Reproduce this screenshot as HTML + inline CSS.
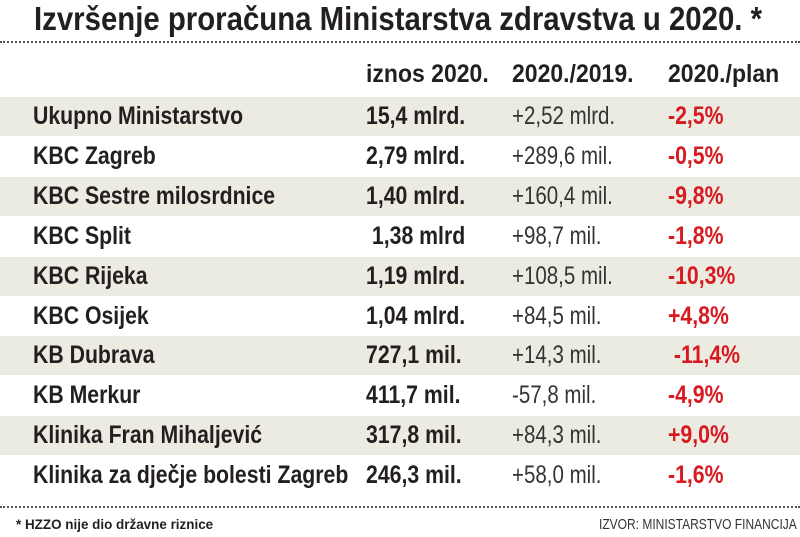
<!DOCTYPE html>
<html><head><meta charset="utf-8"><style>
body{margin:0;background:#fff;width:800px;height:537px;overflow:hidden;position:relative;font-family:"Liberation Sans",sans-serif;color:#231f20}
.t{position:absolute;white-space:nowrap;transform-origin:left center;line-height:1}
.b{font-weight:bold}
.band{position:absolute;left:0;width:800px;height:39px;background:#ecebe1}
.dot{position:absolute;left:0;width:800px;border-top:2px dotted #555}
.r{color:#d71920;font-weight:bold}
</style></head><body>
<div class="t b" style="left:34px;top:2px;font-size:33px;transform:scaleX(0.89)">Izvršenje proračuna Ministarstva zdravstva u 2020. *</div>
<div class="dot" style="top:41px"></div>
<div class="t b" style="left:366px;top:62px;font-size:25px;transform:scaleX(0.92)">iznos 2020.</div>
<div class="t b" style="left:512px;top:62px;font-size:25px;transform:scaleX(0.92)">2020./2019.</div>
<div class="t b" style="left:668px;top:62px;font-size:25px;transform:scaleX(0.92)">2020./plan</div>

<div class="band" style="top:97px"></div>
<div class="band" style="top:177px"></div>
<div class="band" style="top:257px"></div>
<div class="band" style="top:336px"></div>
<div class="band" style="top:416px"></div>

<div id="rows"></div>
<script>
var d=[["Ukupno Ministarstvo","15,4 mlrd.","+2,52 mlrd.","-2,5%"],
["KBC Zagreb","2,79 mlrd.","+289,6 mil.","-0,5%"],
["KBC Sestre milosrdnice","1,40 mlrd.","+160,4 mil.","-9,8%"],
["KBC Split"," 1,38 mlrd","+98,7 mil.","-1,8%"],
["KBC Rijeka","1,19 mlrd.","+108,5 mil.","-10,3%"],
["KBC Osijek","1,04 mlrd.","+84,5 mil.","+4,8%"],
["KB Dubrava","727,1 mil.","+14,3 mil."," -11,4%"],
["KB Merkur","411,7 mil.","-57,8 mil.","-4,9%"],
["Klinika Fran Mihaljević","317,8 mil.","+84,3 mil.","+9,0%"],
["Klinika za dječje bolesti Zagreb","246,3 mil.","+58,0 mil.","-1,6%"]];
var h="";
d.forEach(function(r,i){var y=Math.round(104+i*39.9);
h+='<div class="t b" style="left:33px;top:'+y+'px;font-size:25px;transform:scaleX(0.85)">'+r[0]+'</div>';
h+='<div class="t b" style="left:366px;top:'+y+'px;font-size:25px;transform:scaleX(0.85)">'+r[1].replace(" ","&nbsp;")+'</div>';
h+='<div class="t" style="left:512px;top:'+y+'px;font-size:25px;transform:scaleX(0.82);color:#333">'+r[2]+'</div>';
h+='<div class="t r" style="left:668px;top:'+y+'px;font-size:25px;transform:scaleX(0.85)">'+r[3].replace(" ","&nbsp;")+'</div>';});
document.getElementById("rows").innerHTML=h;
</script>
<div class="dot" style="top:506px"></div>
<div class="t b" style="left:16px;top:517px;font-size:14px;transform:scaleX(0.96)">* HZZO nije dio državne riznice</div>
<div class="t" style="left:599px;top:517px;font-size:15px;transform:scaleX(0.8);color:#333">IZVOR: MINISTARSTVO FINANCIJA</div>
</body></html>
